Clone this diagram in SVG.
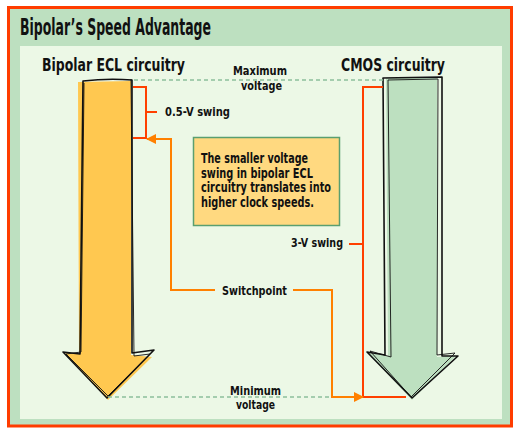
<svg xmlns="http://www.w3.org/2000/svg" width="520" height="434" viewBox="0 0 520 434">
<defs>
<style>
text{font-family:'DejaVu Sans Condensed','Liberation Sans',sans-serif;font-weight:bold;fill:#111;}
.t12{font-size:12.8px;}
.t13{font-size:13.6px;}
.t16{font-size:17px;}
.red{fill:none;stroke:#ff4000;stroke-width:2;}
.org{fill:none;stroke:#ff8000;stroke-width:2;}
.dash{fill:none;stroke:#8cbf9c;stroke-width:1.5;stroke-dasharray:4 3;}
.ol{fill:none;stroke:#111;stroke-width:1.6;stroke-linejoin:round;}
.ol2{fill:none;stroke:#111;stroke-width:0.9;stroke-linejoin:round;}
</style>
<marker id="ah" viewBox="0 0 10 10" refX="9" refY="5" markerWidth="12" markerHeight="10" markerUnits="userSpaceOnUse" orient="auto">
<path d="M0,0 L10,5 L0,10 Z" fill="#ff8000"/>
</marker>
</defs>
<rect x="8.5" y="7.5" width="503" height="418.5" fill="#bde0c0" stroke="#ff3c00" stroke-width="3"/>
<rect x="20" y="46" width="482" height="373" fill="#ecf8e6"/>
<text x="20" y="35" style="font-size:23px" textLength="191" lengthAdjust="spacingAndGlyphs">Bipolar’s Speed Advantage</text>

<g id="bipolar-arrow">
<path d="M78,82 L131,81 L131,355 L152,357 L108,400 L65,353 L79,354 Z" fill="#ffc850"/>
<path class="ol" d="M83,81 Q108,78 132,80 L132,353 L154,350 L107,398 L63,352 L80,354 Z"/>
<path class="ol2" d="M84,83 L81,352 L66,354 L108,396 L150,354 L134,356 L131,79"/>
<text class="t16" x="42" y="71" textLength="143" lengthAdjust="spacingAndGlyphs">Bipolar ECL circuitry</text>
</g>

<g id="cmos-arrow">
<path d="M386,78 L437,78 L437,357 L456,356 L412,400 L368,353 L388,356 Z" fill="#bde0c0"/>
<path class="ol" d="M383,78 L442,77 L442,356 L458,356 L412,398 L367,352 L385,355 Z"/>
<path class="ol2" d="M388,80 L438,79 L437,355 L455,353 L411,397 L370,351 L391,357 L388,80"/>
<text class="t16" x="341" y="71" textLength="104" lengthAdjust="spacingAndGlyphs">CMOS circuitry</text>
</g>

<g id="connectors">
<path class="dash" d="M134,80 L383,80"/>
<path class="dash" d="M108,397 L362,397"/>
<path class="red" d="M133,87 L146,87 L146,138 L133,138 M146,112 L157,112"/>
<path class="red" d="M383,87 L363,87 L363,397 L406,397 M349,244 L363,244"/>
<path class="org" d="M215,290 L171,290 L171,139 L147,139" marker-end="url(#ah)"/>
<path class="org" d="M293,290 L332,290 L332,397 L363,397" marker-end="url(#ah)"/>
</g>

<g id="max-voltage">
<text class="t12" x="233" y="75" textLength="54" lengthAdjust="spacingAndGlyphs">Maximum</text>
<text class="t12" x="241" y="90" textLength="41" lengthAdjust="spacingAndGlyphs">voltage</text>
</g>
<g id="min-voltage">
<text class="t12" x="230" y="395" textLength="51" lengthAdjust="spacingAndGlyphs">Minimum</text>
<text class="t12" x="236" y="409" textLength="39" lengthAdjust="spacingAndGlyphs">voltage</text>
</g>
<g id="swing-05">
<text class="t12" x="165" y="116" textLength="65" lengthAdjust="spacingAndGlyphs">0.5-V swing</text>
</g>
<g id="swing-3">
<text class="t12" x="291" y="247" textLength="52" lengthAdjust="spacingAndGlyphs">3-V swing</text>
</g>
<g id="switchpoint">
<text class="t12" x="222" y="295" textLength="65" lengthAdjust="spacingAndGlyphs">Switchpoint</text>
</g>
<g id="note">
<rect x="193.5" y="137.5" width="146" height="88" fill="#ffd980" stroke="#5a9f70" stroke-width="1.5"/>
<text class="t13" x="201" y="163" textLength="107" lengthAdjust="spacingAndGlyphs">The smaller voltage</text>
<text class="t13" x="201" y="177.5" textLength="112" lengthAdjust="spacingAndGlyphs">swing in bipolar ECL</text>
<text class="t13" x="201" y="192" textLength="130" lengthAdjust="spacingAndGlyphs">circuitry translates into</text>
<text class="t13" x="201" y="206.5" textLength="113" lengthAdjust="spacingAndGlyphs">higher clock speeds.</text>
</g>
</svg>
